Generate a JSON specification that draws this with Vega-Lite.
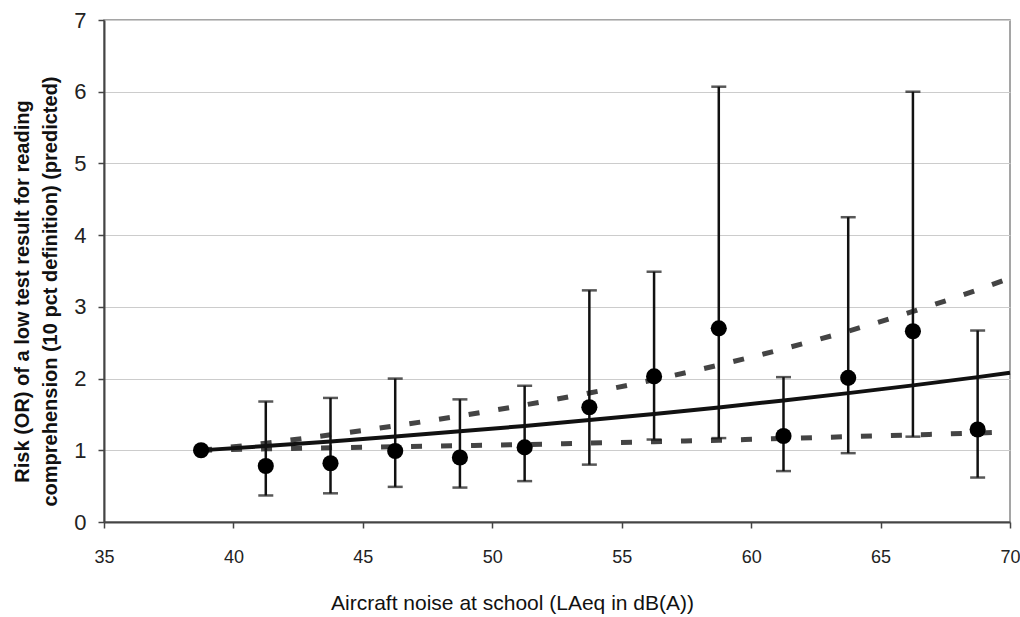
{
  "$schema": "https://vega.github.io/schema/vega-lite/v6.json",
  "width": 906,
  "height": 502,
  "autosize": {"type": "none"},
  "padding": {"left": 104, "top": 20, "right": 10, "bottom": 95},
  "background": "white",
  "config": {
    "view": {"stroke": "#888888", "strokeWidth": 1.5},
    "font": "Liberation Sans"
  },
  "datasets": {
    "points": [
      {"noise": 38.75, "or": 1.0, "lo": null, "hi": null},
      {"noise": 41.25, "or": 0.78, "lo": 0.37, "hi": 1.68},
      {"noise": 43.75, "or": 0.82, "lo": 0.40, "hi": 1.73},
      {"noise": 46.25, "or": 0.99, "lo": 0.49, "hi": 2.00},
      {"noise": 48.75, "or": 0.90, "lo": 0.48, "hi": 1.71},
      {"noise": 51.25, "or": 1.04, "lo": 0.57, "hi": 1.90},
      {"noise": 53.75, "or": 1.60, "lo": 0.80, "hi": 3.23},
      {"noise": 56.25, "or": 2.03, "lo": 1.15, "hi": 3.49},
      {"noise": 58.75, "or": 2.70, "lo": 1.17, "hi": 6.07},
      {"noise": 61.25, "or": 1.20, "lo": 0.71, "hi": 2.02},
      {"noise": 63.75, "or": 2.01, "lo": 0.96, "hi": 4.25},
      {"noise": 66.25, "or": 2.66, "lo": 1.19, "hi": 6.00},
      {"noise": 68.75, "or": 1.29, "lo": 0.62, "hi": 2.67}
    ],
    "curves": [
      {"noise": 38.75, "est": 1.0, "upper": 1.0, "lower": 1.0},
      {"noise": 41.25, "est": 1.06, "upper": 1.10, "lower": 1.02},
      {"noise": 43.75, "est": 1.124, "upper": 1.216, "lower": 1.035},
      {"noise": 46.25, "est": 1.192, "upper": 1.341, "lower": 1.05},
      {"noise": 48.75, "est": 1.264, "upper": 1.479, "lower": 1.065},
      {"noise": 51.25, "est": 1.34, "upper": 1.632, "lower": 1.08},
      {"noise": 53.75, "est": 1.421, "upper": 1.799, "lower": 1.10},
      {"noise": 56.25, "est": 1.507, "upper": 1.984, "lower": 1.12},
      {"noise": 58.75, "est": 1.598, "upper": 2.189, "lower": 1.14},
      {"noise": 61.25, "est": 1.694, "upper": 2.414, "lower": 1.165},
      {"noise": 63.75, "est": 1.797, "upper": 2.662, "lower": 1.19},
      {"noise": 66.25, "est": 1.905, "upper": 2.936, "lower": 1.215},
      {"noise": 68.75, "est": 2.02, "upper": 3.237, "lower": 1.24},
      {"noise": 70, "est": 2.08, "upper": 3.40, "lower": 1.255}
    ]
  },
  "encoding": {
    "x": {
      "field": "noise",
      "type": "quantitative",
      "scale": {"domain": [35, 70], "nice": false, "zero": false},
      "axis": {
        "title": "Aircraft noise at school (LAeq in dB(A))",
        "values": [35, 40, 45, 50, 55, 60, 65, 70],
        "format": "d",
        "grid": false,
        "domainColor": "#444444",
        "domainWidth": 2,
        "tickColor": "#444444",
        "tickWidth": 1.5,
        "tickSize": 6,
        "labelFontSize": 18,
        "labelColor": "#222222",
        "labelPadding": 20,
        "labelFlush": false,
        "titleFontSize": 21,
        "titleFontWeight": "normal",
        "titleColor": "#111111",
        "titlePadding": 26,
        "titleX": 408
      }
    }
  },
  "layer": [
    {
      "data": {"name": "curves"},
      "mark": {"type": "line", "color": "#444444", "strokeWidth": 5, "strokeDash": [11, 19], "interpolate": "monotone"},
      "encoding": {
        "y": {
          "field": "upper",
          "type": "quantitative",
          "scale": {"domain": [0, 7], "nice": false},
          "axis": {
            "title": ["Risk (OR) of a low test result for reading", "comprehension (10 pct definition) (predicted)"],
            "values": [0, 1, 2, 3, 4, 5, 6, 7],
            "format": "d",
            "gridColor": "#cccccc",
            "gridWidth": 1,
            "domainColor": "#444444",
            "domainWidth": 2,
            "tickColor": "#444444",
            "tickWidth": 1.5,
            "tickSize": 6,
            "labelFontSize": 22,
            "labelColor": "#222222",
            "labelPadding": 12,
            "labelFlush": false,
            "titleFontSize": 20,
            "titleFontWeight": "bold",
            "titleColor": "#111111",
            "titleLineHeight": 28,
            "titleX": -72,
            "titleY": 271
          }
        }
      }
    },
    {
      "data": {"name": "curves"},
      "mark": {"type": "line", "color": "#444444", "strokeWidth": 5, "strokeDash": [11, 19], "interpolate": "monotone"},
      "encoding": {"y": {"field": "lower", "type": "quantitative"}}
    },
    {
      "data": {"name": "curves"},
      "mark": {"type": "line", "color": "#111111", "strokeWidth": 4, "interpolate": "monotone"},
      "encoding": {"y": {"field": "est", "type": "quantitative"}}
    },
    {
      "data": {"name": "points"},
      "transform": [{"filter": "datum.hi != null"}],
      "mark": {"type": "rule", "color": "#111111", "strokeWidth": 2.5},
      "encoding": {
        "y": {"field": "lo", "type": "quantitative"},
        "y2": {"field": "hi"}
      }
    },
    {
      "data": {"name": "points"},
      "transform": [{"filter": "datum.hi != null"}],
      "mark": {"type": "tick", "orient": "horizontal", "color": "#111111", "size": 15, "thickness": 2.5},
      "encoding": {"y": {"field": "hi", "type": "quantitative"}}
    },
    {
      "data": {"name": "points"},
      "transform": [{"filter": "datum.hi != null"}],
      "mark": {"type": "tick", "orient": "horizontal", "color": "#111111", "size": 15, "thickness": 2.5},
      "encoding": {"y": {"field": "lo", "type": "quantitative"}}
    },
    {
      "data": {"name": "points"},
      "mark": {"type": "circle", "color": "#000000", "opacity": 1, "size": 260},
      "encoding": {"y": {"field": "or", "type": "quantitative"}}
    }
  ]
}
